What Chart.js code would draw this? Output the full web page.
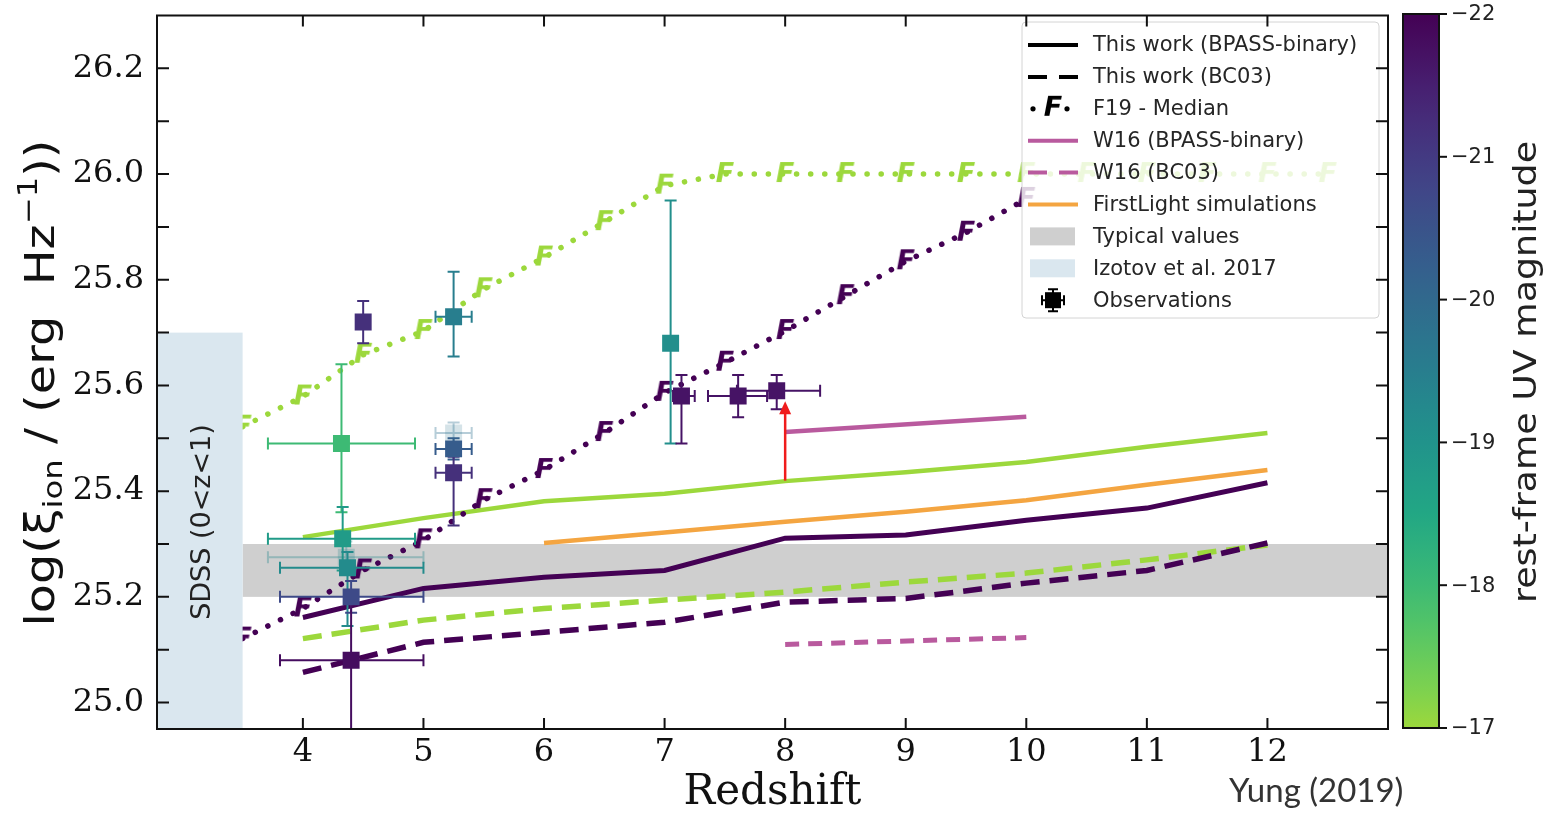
<!DOCTYPE html>
<html>
<head>
<meta charset="utf-8">
<script src="https://cdn.jsdelivr.net/npm/chart.js@4.4.1/dist/chart.umd.min.js"></script>
<style>
  html, body { margin: 0; padding: 0; background: #fff; }
  #wrap { width: 1565px; height: 814px; }
</style>
</head>
<body>
<div id="wrap"><canvas id="xiChart" width="1565" height="814"></canvas></div>
<script>
// model grid (this work)
const redshiftGrid = [4, 5, 6, 7, 8, 9, 10, 11, 12];
const bpassFaint = [25.313, 25.349, 25.381, 25.395, 25.419, 25.436, 25.455, 25.484, 25.51];
const bpassBright = [25.161, 25.216, 25.237, 25.25, 25.311, 25.317, 25.345, 25.368, 25.416];
const bc03Faint = [25.121, 25.156, 25.178, 25.194, 25.209, 25.228, 25.245, 25.27, 25.298];
const bc03Bright = [25.057, 25.114, 25.133, 25.152, 25.19, 25.197, 25.226, 25.25, 25.302];

// F19 medians
const f19Redshift = [3.5, 4, 4.5, 5, 5.5, 6, 6.5, 7, 7.5, 8, 8.5, 9, 9.5, 10, 10.5, 11, 11.5, 12, 12.5];
const f19Faint = [25.522, 25.579, 25.658, 25.703, 25.782, 25.842, 25.909, 25.978, 26.0, 26.0,
                  26.0, 26.0, 26.0, 26.0, 26.0, 26.0, 26.0, 26.0, 26.0];
const f19Bright = [25.121, 25.178, 25.25, 25.307, 25.383, 25.44, 25.51, 25.586, 25.643, 25.703,
                   25.769, 25.835, 25.889, 25.953];

// W16 and FirstLight
const w16Redshift = [8, 10];
const w16Bpass = [25.512, 25.541];
const w16Bc03 = [25.11, 25.123];
const firstLightRedshift = [6, 7, 8, 9, 10, 11, 12];
const firstLight = [25.302, 25.322, 25.342, 25.361, 25.383, 25.412, 25.44];

// observations
const obsRedshift = [4.32, 4.33, 4.36, 4.37, 4.40, 4.40, 4.50, 5.25, 5.25, 5.25, 5.25, 7.05, 7.14, 7.61, 7.93];
const obsXi =       [25.49, 25.31, 25.275, 25.255, 25.20, 25.08, 25.72, 25.51, 25.73, 25.48, 25.435, 25.68, 25.58, 25.58, 25.59];
const obsErrHi =    [0.15, 0.06, 0.03, 0.03, 0.03, 0.12, 0.04, 0.02, 0.085, 0.02, 0.03, 0.27, 0.04, 0.04, 0.03];
const obsErrLo =    [0.13, 0.06, 0.03, 0.11, 0.03, 0.35, 0.04, 0.02, 0.075, 0.02, 0.10, 0.19, 0.09, 0.04, 0.035];
const obsZLo =      [3.71, 3.71, 3.71, 3.81, 3.81, 3.81, null, 5.10, 5.10, 5.10, 5.10, null, 7.07, 7.36, 7.60];
const obsZHi =      [4.93, 4.93, 5.00, 5.00, 5.00, 5.00, null, 5.40, 5.40, 5.40, 5.40, null, 7.25, 7.85, 8.29];
const obsMuv =      [-18.0, -18.8, -19.3, -19.2, -20.7, -21.8, -21.2, -19.8, -19.5, -20.3, -21.2, -19.1, -21.7, -21.7, -21.7];
const obsAlpha =    [1, 1, 0.25, 1, 1, 1, 1, 0.2, 1, 1, 1, 1, 1, 1, 1];

// lower limit (arrow)
const limitRedshift = [8.0];
const limitFrom = [25.42];
const limitTo = [25.57];

// shaded regions
const typicalBand = [25.2, 25.3];
const sdssBox = { zMax: 3.5, xiMax: 25.7 };

const xTicks = [4, 5, 6, 7, 8, 9, 10, 11, 12];
const yTicks = [25.0, 25.2, 25.4, 25.6, 25.8, 26.0, 26.2];
const yMinorTicks = [25.0, 25.1, 25.2, 25.3, 25.4, 25.5, 25.6, 25.7, 25.8, 25.9, 26.0, 26.1, 26.2];
const cbarTicks = [-22, -21, -20, -19, -18, -17];

const w16Color = '#b95a9e';
const orangeColor = '#f4a541';
const greyBand = '#cfcfcf';
const sdssColor = '#dae7ef';

// viridis, magnitude -22 -> 0, -17 -> 0.85
const viridisStops = ['#440154', '#482475', '#414487', '#355f8d', '#2a788e', '#21918c',
                      '#22a884', '#44bf70', '#7ad151', '#bddf26', '#fde725'];
function hexRgb(h) {
    return [parseInt(h.slice(1, 3), 16), parseInt(h.slice(3, 5), 16), parseInt(h.slice(5, 7), 16)];
}
function viridis(t, a) {
    t = Math.max(0, Math.min(1, t));
    const p = t * 10, i = Math.min(9, Math.floor(p)), f = p - i;
    const c0 = hexRgb(viridisStops[i]), c1 = hexRgb(viridisStops[i + 1]);
    const c = c0.map((v, k) => Math.round(v + (c1[k] - v) * f));
    return 'rgba(' + c[0] + ',' + c[1] + ',' + c[2] + ',' + (a === undefined ? 1 : a) + ')';
}
const CMAP_TOP = 0.85;
function magColor(m, a) {
    return viridis((m + 22) / 5 * CMAP_TOP, a);
}
const brightColor = magColor(-22);
const faintColor = magColor(-17);

function fMarker(color) {
    const c = document.createElement('canvas');
    c.width = 30; c.height = 32;
    const g = c.getContext('2d');
    g.font = 'italic bold 27px "DejaVu Sans"';
    g.fillStyle = color;
    g.textAlign = 'center';
    g.textBaseline = 'middle';
    g.fillText('F', 15, 17);
    return c;
}

function pts(xs, ys) {
    return ys.map((y, i) => ({ x: xs[i], y: y }));
}
function lineSet(xs, ys, color, width, dash) {
    return {
        type: 'line', data: pts(xs, ys), borderColor: color, borderWidth: width,
        borderDash: dash || [], pointRadius: 0, fill: false, tension: 0
    };
}
function f19Set(ys, color) {
    return {
        type: 'line', data: pts(f19Redshift, ys), borderColor: color, borderWidth: 5.5,
        borderDash: [0.1, 14], borderCapStyle: 'round', pointStyle: fMarker(color),
        pointRadius: 10, fill: false, tension: 0
    };
}

const obsData = pts(obsRedshift, obsXi);
const obsFill = obsMuv.map((m, i) => magColor(m, obsAlpha[i]));

// shaded regions under the data, SDSS box over the line starts
const regionsPlugin = {
    id: 'regions',
    beforeDatasetsDraw(chart) {
        const { ctx, chartArea: a, scales: { x, y } } = chart;
        ctx.save();
        ctx.fillStyle = greyBand;
        const x0 = x.getPixelForValue(sdssBox.zMax);
        const yTop = y.getPixelForValue(typicalBand[1]), yBot = y.getPixelForValue(typicalBand[0]);
        ctx.fillRect(x0, yTop, a.right - x0, yBot - yTop);
        ctx.restore();
    },
    beforeDatasetDraw(chart, args) {
        if (args.index !== 0) return;
        const { ctx, chartArea: a, scales: { x, y } } = chart;
        ctx.save();
        ctx.beginPath();
        ctx.rect(a.left, a.top, a.right - a.left, a.bottom - a.top);
        ctx.clip();
        ctx.lineWidth = 2;
        const cap = 6;
        obsRedshift.forEach((z, i) => {
            const px = x.getPixelForValue(z), py = y.getPixelForValue(obsXi[i]);
            ctx.strokeStyle = magColor(obsMuv[i], obsAlpha[i] < 1 ? 0.35 : 1);
            const yHi = y.getPixelForValue(obsXi[i] + obsErrHi[i]);
            const yLo = y.getPixelForValue(obsXi[i] - obsErrLo[i]);
            ctx.beginPath();
            ctx.moveTo(px, yHi); ctx.lineTo(px, yLo);
            ctx.moveTo(px - cap, yHi); ctx.lineTo(px + cap, yHi);
            ctx.moveTo(px - cap, yLo); ctx.lineTo(px + cap, yLo);
            if (obsZLo[i] !== null) {
                const xl = x.getPixelForValue(obsZLo[i]), xr = x.getPixelForValue(obsZHi[i]);
                ctx.moveTo(xl, py); ctx.lineTo(xr, py);
                ctx.moveTo(xl, py - cap); ctx.lineTo(xl, py + cap);
                ctx.moveTo(xr, py - cap); ctx.lineTo(xr, py + cap);
            }
            ctx.stroke();
        });
        ctx.restore();
    },
    afterDatasetsDraw(chart) {
        const { ctx, chartArea: a, scales: { x, y } } = chart;
        ctx.save();
        // SDSS (Izotov et al. 2017)
        const x1 = x.getPixelForValue(sdssBox.zMax), yT = y.getPixelForValue(sdssBox.xiMax);
        ctx.fillStyle = sdssColor;
        ctx.fillRect(a.left, yT, x1 - a.left, a.bottom - yT);
        ctx.translate(210, 522);
        ctx.rotate(-Math.PI / 2);
        ctx.fillStyle = '#222';
        ctx.font = '27px "DejaVu Sans"';
        ctx.textAlign = 'center';
        ctx.textBaseline = 'alphabetic';
        ctx.fillText('SDSS (0<z<1)', 0, 0);
        ctx.restore();

        // lower limit arrow
        ctx.save();
        ctx.strokeStyle = '#f01c1c';
        ctx.fillStyle = '#f01c1c';
        ctx.lineWidth = 2.5;
        limitRedshift.forEach((z, i) => {
            const px = x.getPixelForValue(z);
            const p0 = y.getPixelForValue(limitFrom[i]), p1 = y.getPixelForValue(limitTo[i]);
            ctx.beginPath();
            ctx.moveTo(px, p0); ctx.lineTo(px, p1 + 10);
            ctx.stroke();
            ctx.beginPath();
            ctx.moveTo(px, p1); ctx.lineTo(px - 6, p1 + 13); ctx.lineTo(px + 6, p1 + 13);
            ctx.closePath();
            ctx.fill();
        });
        ctx.restore();
    }
};

function drawLegend(ctx) {
    const left = 1022, top = 22, w = 357, h = 296;
    ctx.save();
    ctx.fillStyle = 'rgba(255,255,255,0.82)';
    ctx.strokeStyle = '#d4d4d4';
    ctx.lineWidth = 1;
    ctx.beginPath();
    ctx.roundRect(left, top, w, h, 4);
    ctx.fill();
    ctx.stroke();

    const items = [
        { label: 'This work (BPASS-binary)', kind: 'line', color: '#000', dash: [] },
        { label: 'This work (BC03)', kind: 'line', color: '#000', dash: [19, 12] },
        { label: 'F19 - Median', kind: 'f19' },
        { label: 'W16 (BPASS-binary)', kind: 'line', color: w16Color, dash: [] },
        { label: 'W16 (BC03)', kind: 'line', color: w16Color, dash: [19, 12] },
        { label: 'FirstLight simulations', kind: 'line', color: orangeColor, dash: [] },
        { label: 'Typical values', kind: 'patch', color: greyBand },
        { label: 'Izotov et al. 2017', kind: 'patch', color: sdssColor },
        { label: 'Observations', kind: 'obs' }
    ];
    const hx0 = 1028, hx1 = 1078, tx = 1093;
    items.forEach((it, i) => {
        const cy = 45 + i * 31.9;
        if (it.kind === 'line') {
            ctx.strokeStyle = it.color;
            ctx.lineWidth = 4;
            ctx.setLineDash(it.dash);
            ctx.beginPath(); ctx.moveTo(hx0, cy); ctx.lineTo(hx1, cy); ctx.stroke();
            ctx.setLineDash([]);
        } else if (it.kind === 'f19') {
            ctx.fillStyle = '#000';
            ctx.beginPath(); ctx.arc(1033, cy, 2.6, 0, 2 * Math.PI); ctx.fill();
            ctx.beginPath(); ctx.arc(1067, cy, 2.6, 0, 2 * Math.PI); ctx.fill();
            ctx.drawImage(fMarker('#000'), 1038, cy - 17);
        } else if (it.kind === 'patch') {
            ctx.fillStyle = it.color;
            ctx.fillRect(1030, cy - 9, 45, 18);
        } else if (it.kind === 'obs') {
            const cx = 1053;
            ctx.strokeStyle = '#000'; ctx.lineWidth = 2;
            ctx.beginPath();
            ctx.moveTo(cx, cy - 11); ctx.lineTo(cx, cy + 11);
            ctx.moveTo(cx - 11, cy); ctx.lineTo(cx + 11, cy);
            ctx.moveTo(cx - 5, cy - 11); ctx.lineTo(cx + 5, cy - 11);
            ctx.moveTo(cx - 5, cy + 11); ctx.lineTo(cx + 5, cy + 11);
            ctx.moveTo(cx - 11, cy - 5); ctx.lineTo(cx - 11, cy + 5);
            ctx.moveTo(cx + 11, cy - 5); ctx.lineTo(cx + 11, cy + 5);
            ctx.stroke();
            ctx.fillStyle = '#000';
            ctx.fillRect(cx - 8, cy - 8, 16, 16);
        }
        ctx.fillStyle = '#262626';
        ctx.font = '21px "DejaVu Sans"';
        ctx.textAlign = 'left';
        ctx.textBaseline = 'middle';
        ctx.fillText(it.label, tx, cy + 1);
    });
    ctx.restore();
}

function drawColorbar(ctx) {
    const x0 = 1403, x1 = 1439, top = 14, bottom = 728;
    ctx.save();
    const grad = ctx.createLinearGradient(0, top, 0, bottom);
    for (let k = 0; k <= 20; k++) {
        grad.addColorStop(k / 20, viridis(k / 20 * CMAP_TOP));
    }
    ctx.fillStyle = grad;
    ctx.fillRect(x0, top, x1 - x0, bottom - top);
    ctx.strokeStyle = '#111';
    ctx.lineWidth = 2;
    ctx.strokeRect(x0, top, x1 - x0, bottom - top);
    ctx.font = '21px "DejaVu Sans"';
    ctx.fillStyle = '#222';
    ctx.textAlign = 'left';
    ctx.textBaseline = 'middle';
    cbarTicks.forEach(m => {
        const py = top + (m + 22) / 5 * (bottom - top);
        ctx.beginPath(); ctx.moveTo(x1, py); ctx.lineTo(x1 + 8, py); ctx.stroke();
        ctx.fillText('\u2212' + Math.abs(m), 1451, py + 1);
    });
    // colorbar label
    ctx.translate(1536, 372);
    ctx.rotate(-Math.PI / 2);
    ctx.font = '32px "DejaVu Sans"';
    const label = 'rest-frame UV magnitude';
    const wNat = ctx.measureText(label).width;
    ctx.scale(462 / wNat, 1);
    ctx.textAlign = 'center';
    ctx.textBaseline = 'alphabetic';
    ctx.fillText(label, 0, 0);
    ctx.restore();
}

function drawYTitle(ctx) {
    const parts = [
        { t: 'log(\u03be', size: 40, dy: 0 },
        { t: 'ion', size: 27, dy: 8 },
        { t: ' / (erg  Hz', size: 40, dy: 0 },
        { t: '\u22121', size: 27, dy: -17 },
        { t: '))', size: 40, dy: 0 }
    ];
    ctx.save();
    ctx.translate(54, 383);
    ctx.rotate(-Math.PI / 2);
    let total = 0;
    parts.forEach(p => {
        ctx.font = p.size + 'px "DejaVu Sans"';
        p.w = ctx.measureText(p.t).width;
        total += p.w;
    });
    ctx.scale(487 / total, 1);
    ctx.fillStyle = '#111';
    ctx.textAlign = 'left';
    ctx.textBaseline = 'alphabetic';
    let cx = -total / 2;
    parts.forEach(p => {
        ctx.font = p.size + 'px "DejaVu Sans"';
        ctx.fillText(p.t, cx, p.dy);
        cx += p.w;
    });
    ctx.restore();
}

const framePlugin = {
    id: 'frame',
    afterDraw(chart) {
        const { ctx, chartArea: a, scales: { x, y } } = chart;
        drawLegend(ctx);
        ctx.save();
        ctx.strokeStyle = '#111';
        ctx.lineWidth = 2;
        ctx.strokeRect(a.left, a.top, a.right - a.left, a.bottom - a.top);
        ctx.beginPath();
        xTicks.forEach(v => {
            const px = x.getPixelForValue(v);
            ctx.moveTo(px, a.bottom); ctx.lineTo(px, a.bottom - 11);
            ctx.moveTo(px, a.top); ctx.lineTo(px, a.top + 11);
        });
        yMinorTicks.forEach(v => {
            const py = y.getPixelForValue(v);
            ctx.moveTo(a.left, py); ctx.lineTo(a.left + 12, py);
            ctx.moveTo(a.right, py); ctx.lineTo(a.right - 12, py);
        });
        ctx.stroke();

        // x title
        ctx.fillStyle = '#111';
        ctx.font = '42px "DejaVu Serif"';
        ctx.textAlign = 'center';
        ctx.textBaseline = 'alphabetic';
        ctx.fillText('Redshift', (a.left + a.right) / 2, 804);

        // credit
        ctx.fillStyle = '#333';
        ctx.font = '33px Lato';
        ctx.textAlign = 'left';
        ctx.fillText('Yung (2019)', 1229, 802);
        ctx.restore();

        drawYTitle(ctx);
        drawColorbar(ctx);
    }
};

const ctx = document.getElementById('xiChart').getContext('2d');
new Chart(ctx, {
    type: 'scatter',
    data: {
        datasets: [
            {
                type: 'scatter', data: obsData, pointStyle: 'rect', pointRadius: 12,
                backgroundColor: obsFill, borderColor: obsFill, borderWidth: 0
            },
            f19Set(f19Bright, brightColor),
            f19Set(f19Faint, faintColor),
            lineSet(redshiftGrid, bpassBright, brightColor, 5),
            lineSet(redshiftGrid, bpassFaint, faintColor, 4.5),
            lineSet(redshiftGrid, bc03Bright, brightColor, 5.5, [19, 10]),
            lineSet(redshiftGrid, bc03Faint, faintColor, 5.5, [19, 10]),
            lineSet(w16Redshift, w16Bpass, w16Color, 4.5),
            lineSet(w16Redshift, w16Bc03, w16Color, 5, [14, 9]),
            lineSet(firstLightRedshift, firstLight, orangeColor, 4.5)
        ]
    },
    options: {
        responsive: false,
        animation: false,
        events: [],
        layout: { padding: { left: 0, right: 177, top: 14, bottom: 0 } },
        plugins: { legend: { display: false }, tooltip: { enabled: false } },
        scales: {
            x: {
                type: 'linear', min: 2.79, max: 13.0,
                grid: { display: false, drawTicks: false },
                border: { display: false },
                afterBuildTicks: s => { s.ticks = xTicks.map(v => ({ value: v })); },
                afterFit: s => { s.height = 85; s.paddingLeft = 0; s.paddingRight = 0; },
                ticks: {
                    padding: 4, color: '#111', maxRotation: 0,
                    font: { family: 'DejaVu Serif', size: 32 },
                    callback: v => String(v)
                }
            },
            y: {
                type: 'linear', min: 24.95, max: 26.30,
                grid: { display: false, drawTicks: false },
                border: { display: false },
                afterBuildTicks: s => { s.ticks = yTicks.map(v => ({ value: v })); },
                afterFit: s => { s.width = 157; s.paddingTop = 0; s.paddingBottom = 0; },
                ticks: {
                    padding: 13, color: '#111',
                    font: { family: 'DejaVu Serif', size: 32 },
                    callback: v => Number(v).toFixed(1)
                }
            }
        }
    },
    plugins: [regionsPlugin, framePlugin]
});
</script>
</body>
</html>
